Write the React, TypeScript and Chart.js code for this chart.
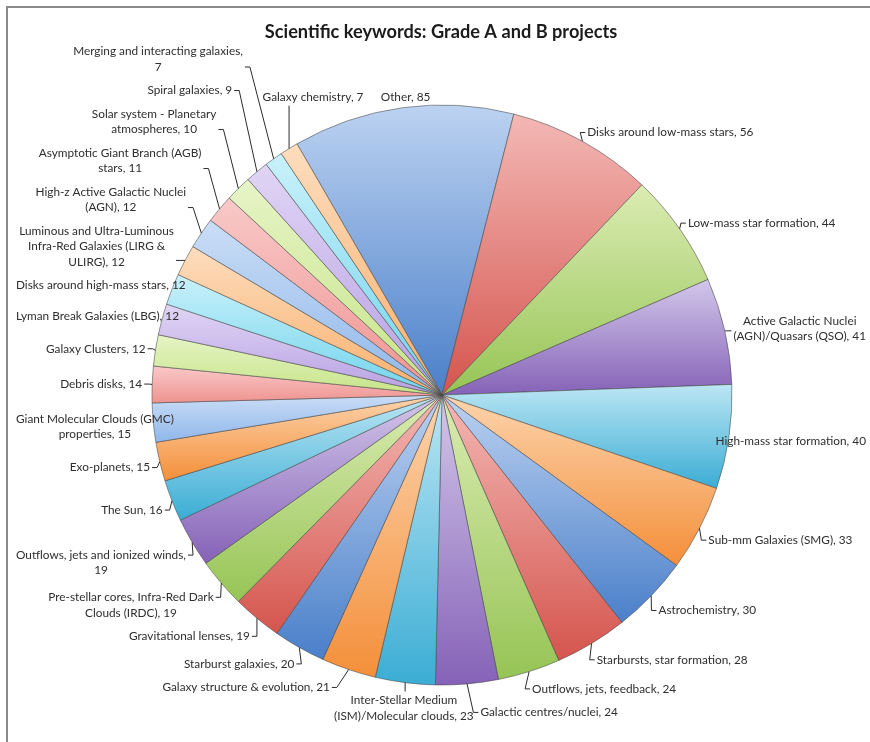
import React, { useEffect, useRef } from "react";
import { Chart, registerables } from "chart.js";

Chart.register(...registerables);

// ---------------- data ----------------
const chartTitle = "Scientific keywords: Grade A and B projects";

const categories: string[] = [
  "Other",
  "Disks around low-mass stars",
  "Low-mass star formation",
  "Active Galactic Nuclei (AGN)/Quasars (QSO)",
  "High-mass star formation",
  "Sub-mm Galaxies (SMG)",
  "Astrochemistry",
  "Starbursts, star formation",
  "Outflows, jets, feedback",
  "Galactic centres/nuclei",
  "Inter-Stellar Medium (ISM)/Molecular clouds",
  "Galaxy structure & evolution",
  "Starburst galaxies",
  "Gravitational lenses",
  "Pre-stellar cores, Infra-Red Dark Clouds (IRDC)",
  "Outflows, jets and ionized winds",
  "The Sun",
  "Exo-planets",
  "Giant Molecular Clouds (GMC) properties",
  "Debris disks",
  "Galaxy Clusters",
  "Lyman Break Galaxies (LBG)",
  "Disks around high-mass stars",
  "Luminous and Ultra-Luminous Infra-Red Galaxies (LIRG & ULIRG)",
  "High-z Active Galactic Nuclei (AGN)",
  "Asymptotic Giant Branch (AGB) stars",
  "Solar system - Planetary atmospheres",
  "Spiral galaxies",
  "Merging and interacting galaxies",
  "Galaxy chemistry",
];

const projectCounts: number[] = [
  85, 56, 44, 41, 40, 33, 30, 28, 24, 24, 23, 21, 20, 19, 19, 19, 16, 15, 15, 14,
  12, 12, 12, 12, 12, 11, 10, 9, 7, 7,
];

// ---------------- styles ----------------
const shadeTop = ["#BCD2F1", "#F3B8B5", "#DBECB3", "#D3C7EA", "#BCE6F4", "#FCD4AD"];
const shadeBottom = ["#4A7FC9", "#D5554E", "#96C455", "#8562B7", "#3BADD4", "#F48F3A"];
const pastelTop = ["#CADDF6", "#F9C9C8", "#E6F4C6", "#E0D5F5", "#C9F1FA", "#FDDDBE"];
const pastelBottom = ["#8FB7EA", "#EE9390", "#C6E487", "#B7A0E3", "#70D3EC", "#F8AF6C"];

const FONT = "Lato, 'Open Sans', sans-serif";
const LABEL_PX = 11.8;
const LINE_H = 15.5;
const TITLE_PX = 18.2;
const PIE_RADIUS = 290;
const FIRST_SLICE_DEG = -30;
const GAP = 10;
const WRAP = 174;
const PADX = 4;
const PADY = 8;
const SHIFT = 0.25;

const CANVAS_W = 862;
const CANVAS_H = 734;

function clamp(v: number, a: number, b: number) {
  return Math.max(a, Math.min(b, v));
}

function sliceFill(context: any) {
  const i = context.dataIndex;
  const pastel = i >= 18;
  const top = (pastel ? pastelTop : shadeTop)[i % 6];
  const bottom = (pastel ? pastelBottom : shadeBottom)[i % 6];
  const chart = context.chart;
  const area = chart.chartArea;
  if (!area) return bottom;
  const cy = (area.top + area.bottom) / 2;
  const data = context.dataset.data as number[];
  const total = data.reduce((a, b) => a + b, 0);
  let before = 0;
  for (let k = 0; k < i; k++) before += data[k];
  const rot = (FIRST_SLICE_DEG * Math.PI) / 180 - Math.PI / 2;
  const a0 = rot + (before / total) * 2 * Math.PI;
  const a1 = rot + ((before + data[i]) / total) * 2 * Math.PI;
  let yMin = cy;
  let yMax = cy;
  const consider = (a: number) => {
    const y = cy + PIE_RADIUS * Math.sin(a);
    yMin = Math.min(yMin, y);
    yMax = Math.max(yMax, y);
  };
  consider(a0);
  consider(a1);
  for (let k = -3; k <= 4; k++) {
    const a = Math.PI / 2 + k * Math.PI;
    if (a > a0 && a < a1) consider(a);
  }
  const g = chart.ctx.createLinearGradient(0, yMin, 0, yMax);
  g.addColorStop(0, top);
  g.addColorStop(1, bottom);
  return g;
}

function wrapText(ctx: CanvasRenderingContext2D, text: string, maxW: number) {
  const words = text.split(" ");
  const lines: string[] = [];
  let cur = "";
  for (const w of words) {
    const t = cur ? cur + " " + w : w;
    if (cur && ctx.measureText(t).width > maxW) {
      lines.push(cur);
      cur = w;
    } else cur = t;
  }
  if (cur) lines.push(cur);
  return lines;
}

type Box = {
  px: number;
  py: number;
  lines: string[];
  w: number;
  h: number;
  left: number;
  top: number;
  mode: "left" | "right" | "top" | "bottom";
  deg: number;
  dx: number;
};

const labelPlugin = {
  id: "pieLabels",
  afterDraw(chart: any) {
    const ctx: CanvasRenderingContext2D = chart.ctx;
    const meta = chart.getDatasetMeta(0);
    if (!meta || !meta.data || !meta.data.length) return;
    ctx.save();

    // title
    ctx.font = `bold ${TITLE_PX}px ${FONT}`;
    ctx.fillStyle = "#1b1b1b";
    ctx.textAlign = "center";
    ctx.textBaseline = "middle";
    ctx.fillText(chartTitle, chart.width / 2 + 2, 24);

    ctx.font = `${LABEL_PX}px ${FONT}`;
    const minX = 8;
    const maxX = chart.width - 4;

    const boxes: Box[] = meta.data.map((arc: any, i: number) => {
      const p = arc.getProps(["x", "y", "startAngle", "endAngle", "outerRadius"], true);
      const mid = (p.startAngle + p.endAngle) / 2;
      const dx = Math.cos(mid);
      const dy = Math.sin(mid);
      const px = p.x + p.outerRadius * dx;
      const py = p.y + p.outerRadius * dy;
      const qx = p.x + (p.outerRadius + GAP) * dx;
      const qy = p.y + (p.outerRadius + GAP) * dy;
      const lines = wrapText(ctx, `${categories[i]}, ${projectCounts[i]}`, WRAP);
      const w = Math.max(...lines.map((l) => ctx.measureText(l).width));
      const h = lines.length * LINE_H;
      const deg = ((((mid + Math.PI / 2) * 180) / Math.PI) % 360 + 360) % 360;
      let left: number;
      let top: number;
      let mode: Box["mode"];
      if (deg > 325 || deg < 15) {
        mode = "top";
        left = px - w / 2 - dx * w * 0.45;
        top = py - 3 - h;
      } else if (deg > 180 && deg < 190) {
        mode = "bottom";
        left = qx - w / 2;
        top = qy;
      } else {
        const sy = dy > 0 ? clamp(2 * dy, 0, 1) : 0;
        top = qy - h / 2 + (sy * h) / 2;
        if (dx >= 0) {
          mode = "left";
          left = qx;
        } else {
          mode = "right";
          left = qx - w;
        }
      }
      left = clamp(left, minX, maxX - w);
      return { px, py, lines, w, h, left, top, mode, deg, dx };
    });

    // labels above the top of the pie share one row
    const tops = boxes.filter((b) => b.mode === "top");
    if (tops.length) {
      const rowBottom = Math.min(...tops.map((b) => b.top + b.h));
      tops.forEach((b) => (b.top = rowBottom - b.h));
    }

    const placed: Box[] = [];
    const hit = (a: Box) =>
      placed.find(
        (b) =>
          a.left < b.left + b.w + PADX &&
          b.left < a.left + a.w + PADX &&
          a.top < b.top + b.h + PADY &&
          b.top < a.top + a.h + PADY
      );

    boxes.filter((b) => b.mode === "top" || b.mode === "bottom").forEach((b) => placed.push(b));

    const place = (list: Box[], dir: 1 | -1) => {
      for (const b of list) {
        let o = hit(b);
        let guard = 0;
        while (o && guard < 60) {
          const hdir = b.dx >= 0 ? 1 : -1;
          const need =
            hdir > 0 ? o.left + o.w + PADX - b.left + 0.01 : b.left + b.w + PADX - o.left + 0.01;
          const nl = b.left + hdir * need;
          if (need <= 30 && nl >= minX && nl + b.w <= maxX) {
            b.left = nl;
          } else {
            const newTop = dir > 0 ? o.top + o.h + PADY + 0.01 : o.top - PADY - b.h - 0.01;
            const moved = Math.abs(newTop - b.top);
            b.top = newTop;
            b.left += hdir * moved * SHIFT;
            b.left = clamp(b.left, minX, maxX - b.w);
          }
          o = hit(b);
          guard++;
        }
        placed.push(b);
      }
    };

    const side = boxes.filter((b) => b.mode === "left" || b.mode === "right");
    place(
      side.filter((b) => b.deg < 180).sort((a, b) => a.deg - b.deg),
      1
    );
    place(
      side.filter((b) => b.deg >= 180 && b.deg < 270).sort((a, b) => b.deg - a.deg),
      1
    );
    place(
      side.filter((b) => b.deg >= 270).sort((a, b) => a.deg - b.deg),
      -1
    );

    // leader lines (skipped when the label already sits over its slice edge)
    ctx.strokeStyle = "#2b2b2b";
    ctx.lineWidth = 1;
    for (const b of boxes) {
      ctx.beginPath();
      if (b.mode === "top" || b.mode === "bottom") {
        const ax = clamp(b.px, b.left + 4, b.left + b.w - 4);
        const ay = b.mode === "top" ? b.top + b.h + 1 : b.top - 1;
        if (Math.hypot(ax - b.px, ay - b.py) > 3) {
          ctx.moveTo(b.px, b.py);
          ctx.lineTo(ax, ay);
        }
      } else {
        const inside =
          b.px > b.left && b.px < b.left + b.w && b.py > b.top - 6 && b.py < b.top + b.h + 6;
        if (!inside) {
          const sx = b.mode === "left" ? b.left - 2 : b.left + b.w + 2;
          const ay = clamp(b.py, b.top + LINE_H / 2, b.top + b.h - LINE_H / 2);
          const ex = b.mode === "left" ? sx - 5 : sx + 5;
          if (Math.hypot(sx - b.px, ay - b.py) > 6) {
            ctx.moveTo(b.px, b.py);
            ctx.lineTo(ex, ay);
            ctx.lineTo(sx, ay);
          }
        }
      }
      ctx.stroke();
    }

    // text
    ctx.fillStyle = "#2e2e2e";
    ctx.textAlign = "center";
    ctx.textBaseline = "middle";
    for (const b of boxes) {
      b.lines.forEach((l, k) => {
        ctx.fillText(l, b.left + b.w / 2, b.top + LINE_H * k + LINE_H / 2);
      });
    }
    ctx.restore();
  },
};

export default function App() {
  const ref = useRef<HTMLCanvasElement | null>(null);

  useEffect(() => {
    if (!ref.current) return;
    document.body.style.overflow = "hidden";
    const chart = new Chart(ref.current, {
      type: "pie",
      data: {
        labels: categories,
        datasets: [
          {
            data: projectCounts,
            backgroundColor: sliceFill as any,
            borderColor: "rgba(70,70,70,0.55)",
            borderWidth: 1,
            radius: PIE_RADIUS,
          } as any,
        ],
      },
      options: {
        responsive: false,
        animation: false,
        devicePixelRatio: 1,
        rotation: FIRST_SLICE_DEG,
        layout: { padding: { left: 6, right: 0, top: 40, bottom: 0 } },
        plugins: {
          legend: { display: false },
          tooltip: { enabled: false },
          title: { display: false },
        },
      },
      plugins: [labelPlugin],
    });
    return () => chart.destroy();
  }, []);

  return (
    <div
      style={{
        position: "absolute",
        left: 6,
        top: 6,
        width: 864,
        height: 736,
        borderTop: "2px solid #8a8a8a",
        borderLeft: "2px solid #8a8a8a",
        boxSizing: "border-box",
        background: "#fff",
        overflow: "hidden",
      }}
    >
      <canvas ref={ref} width={CANVAS_W} height={CANVAS_H} style={{ display: "block" }} />
    </div>
  );
}
